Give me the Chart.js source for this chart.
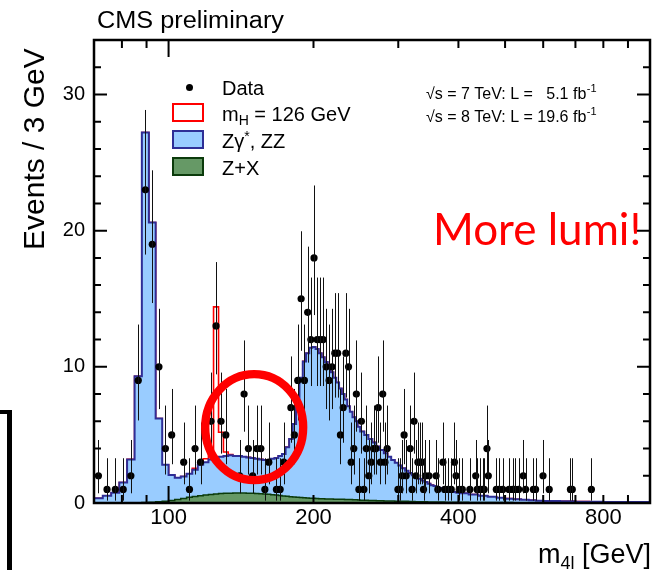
<!DOCTYPE html>
<html><head><meta charset="utf-8">
<script src="https://cdn.jsdelivr.net/npm/chart.js@4.4.1/dist/chart.umd.min.js"></script>
<style>html,body{margin:0;padding:0;background:#fff;}canvas{display:block;}</style>
</head><body>
<canvas id="c" width="654" height="570" style="width:654px;height:570px"></canvas>
<script>
// ---------------- data ----------------
const massRange = [70, 1000];
const xTickLabels = [100, 200, 400, 800];
const yTickLabels = [0, 10, 20, 30];

// histogram binning: [from, to, bin width] (GeV)
const binSegments = [[70, 250, 3], [250, 400, 5], [400, 600, 20], [600, 1000, 50]];

// stacked top of Z+X + Zgamma*,ZZ (blue)
const bkgTotal = [
  0.34,0.53,0.75,1.5,3.2,9.3,27.2,20.6,6.2,2.8,
  2.05,1.85,1.95,2.15,2.45,2.8,3.0,3.2,3.3,3.4,
  3.45,3.5,3.45,3.45,3.4,3.35,3.3,3.25,3.2,3.15,
  3.15,3.25,3.3,3.45,3.6,4.1,4.7,5.8,7.6,9.2,
  10.4,11.0,11.4,11.45,11.3,11.0,10.7,10.35,10.0,9.6,
  9.2,8.85,8.4,8.0,7.6,7.1,6.7,6.3,6.0,5.6,
  5.25,5.0,4.7,4.45,4.15,3.9,3.65,3.4,3.15,2.95,
  2.75,2.55,2.37,2.2,2.03,1.9,1.78,1.65,1.54,1.42,
  1.31,1.24,1.17,1.1,1.02,0.95,0.9,0.85,0.8,0.77,
  0.72,0.62,0.53,0.45,0.38,0.32,0.27,0.23,0.2,0.17,
  0.14,0.12,0.1,0.09,0.08,0.07,0.07,0.08
];
// Z+X (green)
const zxValues = [
  0,0,0,0,0,0.01,0.03,0.06,0.09,0.13,
  0.18,0.25,0.33,0.42,0.48,0.53,0.58,0.62,0.66,0.69,
  0.71,0.72,0.73,0.73,0.73,0.72,0.71,0.7,0.68,0.66,
  0.64,0.61,0.58,0.55,0.52,0.49,0.46,0.44,0.42,0.4,
  0.38,0.36,0.35,0.34,0.33,0.32,0.31,0.3,0.3,0.29,
  0.28,0.28,0.27,0.27,0.26,0.26,0.25,0.24,0.23,0.22,
  0.21,0.2,0.19,0.18,0.17,0.16,0.15,0.14,0.14,0.13,
  0.13,0.12,0.12,0.11,0.11,0.1,0.1,0.09,0.09,0.08,
  0.08,0.08,0.07,0.07,0.07,0.06,0.06,0.06,0.05,0.05,
  0.05,0.04,0.04,0.03,0.03,0.03,0.02,0.02,0.02,0.02,
  0.02,0.01,0.01,0.01,0.01,0.01,0.01,0.01
];
// m_H = 126 GeV signal, stacked on top (lower bin edges and contribution)
const higgsBins   = [112, 115, 118, 121, 124, 127, 130, 133];
const higgsValues = [0.1, 0.2, 0.25, 0.7, 11.1, 1.8, 0.3, 0.05];

// observed events (bin centre, count)
const dataMass = [71.5,74.5,77.5,80.5,83.5,86.5,89.5,92.5,95.5,98.5,101.5,107.5,110.5,113.5,116.5,
  122.5,125.5,128.5,131.5,140.5,143.5,146.5,149.5,152.5,155.5,158.5,161.5,167.5,170.5,173.5,
  179.5,182.5,185.5,188.5,191.5,194.5,197.5,200.5,203.5,206.5,209.5,212.5,215.5,218.5,221.5,224.5,
  227.5,230.5,233.5,236.5,239.5,242.5,245.5,248.5,251.5,254.5,257.5,260.5,263.5,266.5,269.5,272.5,
  275.5,278.5,281.5,284.5,299.5,302.5,305.5,308.5,311.5,317.5,320.5,323.5,326.5,329.5,332.5,335.5,
  338.5,341.5,347.5,359.5,362.5,371.5,374.5,380.5,386.5,392.5,395.5,401.5,407.5,422.5,434.5,437.5,
  443.5,449.5,452.5,458.5,461.5,479.5,485.5,494.5,509.5,518.5,524.5,533.5,545.5,551.5,572.5,578.5,
  599.5,617.5,683.5,689.5,755.5];
const dataCount = [2,1,1,1,2,9,23,19,10,4,5,3,1,4,3,
  6,13,6,5,2,8,4,2,4,4,1,3,1,1,3,
  7,5,9,15,9,14,12,18,12,12,12,10,9,10,11,11,
  5,7,11,10,3,4,8,1,6,1,4,2,3,4,4,7,
  3,8,3,4,1,1,2,5,2,4,1,6,2,3,3,3,
  1,2,2,2,1,3,1,1,1,3,2,1,1,1,2,1,
  1,1,1,4,2,1,1,1,1,1,1,1,2,1,1,1,
  2,1,1,1,1];

// ---------------- build histogram steps ----------------
const edges = [];
binSegments.forEach(([a, b, w]) => { for (let e = a; e < b - 1e-9; e += w) edges.push(e); });
function steps(vals) {
  const pts = vals.map((v, i) => ({x: edges[i], y: v}));
  pts.push({x: massRange[1], y: vals[vals.length - 1]});
  return pts;
}
const higgsTop = bkgTotal.map((v, i) => {
  const k = higgsBins.indexOf(edges[i]);
  return k >= 0 ? v + higgsValues[k] : v;
});

function poissonHigh(n) { const m = n + 1; return m * Math.pow(1 - 1 / (9 * m) + 1 / (3 * Math.sqrt(m)), 3); }
function poissonLow(n) { return n * Math.pow(1 - 1 / (9 * n) - 1 / (3 * Math.sqrt(n)), 3); }

const FONT = '"Liberation Sans", Arial, Helvetica, sans-serif';

const overlay = {
  id: 'overlay',
  afterDatasetsDraw(chart) {
    const {ctx, chartArea: a, scales: {x, y}} = chart;
    // error bars
    ctx.save();
    ctx.beginPath(); ctx.rect(a.left, a.top, a.right - a.left, a.bottom - a.top); ctx.clip();
    ctx.strokeStyle = '#111'; ctx.lineWidth = 1;
    dataMass.forEach((m, i) => {
      const n = dataCount[i];
      const px = Math.round(x.getPixelForValue(m)) + 0.5;
      ctx.beginPath();
      ctx.moveTo(px, y.getPixelForValue(poissonLow(n)));
      ctx.lineTo(px, y.getPixelForValue(poissonHigh(n)));
      ctx.stroke();
    });
    ctx.restore();
    // frame + ticks (ROOT style, inside)
    ctx.save();
    ctx.strokeStyle = '#000';
    ctx.lineWidth = 2;
    for (let v = 0; v <= 34; v += 2) {
      const py = y.getPixelForValue(v);
      const len = v % 10 === 0 ? 13 : 7;
      ctx.beginPath();
      ctx.moveTo(a.left, py); ctx.lineTo(a.left + len, py);
      ctx.moveTo(a.right, py); ctx.lineTo(a.right - len, py);
      ctx.stroke();
    }
    const xt = [];
    for (let v = 70; v < 100; v += 10) xt.push(v);
    for (let v = 100; v <= 1000; v += 100) xt.push(v);
    xt.forEach(v => {
      const px = x.getPixelForValue(v);
      const len = v === 100 ? 17 : 8;
      ctx.beginPath();
      ctx.moveTo(px, a.bottom); ctx.lineTo(px, a.bottom - len);
      ctx.moveTo(px, a.top); ctx.lineTo(px, a.top + len);
      ctx.stroke();
    });
    ctx.lineWidth = 2.5;
    ctx.strokeRect(a.left, a.top, a.right - a.left, a.bottom - a.top);
    ctx.restore();
  },
  afterDraw(chart) {
    const {ctx} = chart;
    ctx.save();
    ctx.fillStyle = '#000';
    ctx.textBaseline = 'alphabetic';
    ctx.textAlign = 'left';
    // header
    ctx.save();
    ctx.translate(97, 28); ctx.scale(1.1, 1);
    ctx.font = '23px ' + FONT;
    ctx.fillText('CMS preliminary', 0, 0);
    ctx.restore();
    // y title
    ctx.save();
    ctx.translate(44, 250); ctx.rotate(-Math.PI / 2);
    ctx.font = '30px ' + FONT;
    ctx.fillText('Events / 3 GeV', 0, 0);
    ctx.restore();
    // x title
    ctx.font = '27px ' + FONT;
    const part3 = ' [GeV]';
    ctx.textAlign = 'right';
    ctx.fillText(part3, 651, 563);
    const w3 = ctx.measureText(part3).width;
    ctx.font = '18px ' + FONT;
    ctx.fillText('4l', 651 - w3, 569);
    const w2 = ctx.measureText('4l').width;
    ctx.font = '27px ' + FONT;
    ctx.fillText('m', 651 - w3 - w2, 563);
    ctx.textAlign = 'left';

    // legend
    ctx.beginPath(); ctx.arc(189.5, 87.5, 3.5, 0, Math.PI * 2); ctx.fill();
    ctx.lineWidth = 2;
    ctx.strokeStyle = '#ff0000'; ctx.fillStyle = '#fff';
    ctx.fillRect(173, 104, 30, 17); ctx.strokeRect(173, 104, 30, 17);
    ctx.fillStyle = '#99ccff'; ctx.strokeStyle = '#2e2e96';
    ctx.fillRect(173, 131, 30, 17); ctx.strokeRect(173, 131, 30, 17);
    ctx.fillStyle = '#669966'; ctx.strokeStyle = '#0b3b0b';
    ctx.fillRect(173, 158, 30, 17); ctx.strokeRect(173, 158, 30, 17);
    ctx.fillStyle = '#000';
    ctx.font = '20px ' + FONT;
    ctx.fillText('Data', 222, 94.5);
    let xx = 222;
    ctx.fillText('m', xx, 120.5); xx += ctx.measureText('m').width;
    ctx.font = '14px ' + FONT; ctx.fillText('H', xx, 125); xx += ctx.measureText('H').width;
    ctx.font = '20px ' + FONT; ctx.fillText(' = 126 GeV', xx, 120.5);
    xx = 222;
    ctx.fillText('Z\u03b3', xx, 147.5); xx += ctx.measureText('Z\u03b3').width;
    ctx.font = '14px ' + FONT; ctx.fillText('*', xx, 141); xx += ctx.measureText('*').width;
    ctx.font = '20px ' + FONT; ctx.fillText(', ZZ', xx, 147.5);
    ctx.fillText('Z+X', 222, 174.5);

    // lumi text
    ctx.font = '16px ' + FONT;
    const l2a = '\u221As = 8 TeV: L = 19.6 fb';
    const endX = 426 + ctx.measureText(l2a).width;
    ctx.fillText('\u221As = 7 TeV: L =', 426, 99);
    ctx.textAlign = 'right'; ctx.fillText('5.1 fb', endX, 99); ctx.textAlign = 'left';
    ctx.fillText(l2a, 426, 122);
    ctx.font = '11px ' + FONT;
    ctx.fillText('-1', endX + 0.5, 92);
    ctx.fillText('-1', endX + 0.5, 115);

    // annotations
    ctx.fillStyle = '#ff0000';
    ctx.font = '44px Lato, "Open Sans", sans-serif';
    ctx.fillText('More lumi!', 433, 245);
    ctx.strokeStyle = '#ff0000'; ctx.lineWidth = 8.3;
    ctx.beginPath(); ctx.ellipse(254.2, 427.2, 49, 53, 0, 0, Math.PI * 2); ctx.stroke();
    ctx.fillStyle = '#000';
    ctx.fillRect(7, 410, 5, 160);
    ctx.fillRect(0, 410, 12, 4);
    ctx.restore();
  }
};

new Chart(document.getElementById('c'), {
  type: 'line',
  data: {
    datasets: [
      {label: 'Data', data: dataMass.map((m, i) => ({x: m, y: dataCount[i]})), showLine: false,
       pointRadius: 3.6, pointBackgroundColor: '#000', pointBorderWidth: 0, borderColor: '#000', order: 0},
      {label: 'Z+X', data: steps(zxValues), stepped: 'before', fill: 'origin', backgroundColor: '#669966',
       borderColor: '#0b3b0b', borderWidth: 1.5, pointRadius: 0, order: 1},
      {label: 'Z\u03b3*, ZZ', data: steps(bkgTotal), stepped: 'before', fill: 'origin', backgroundColor: '#99ccff',
       borderColor: '#2e2e96', borderWidth: 2, pointRadius: 0, order: 2},
      {label: 'm_H = 126 GeV', data: steps(higgsTop), stepped: 'before', fill: false,
       borderColor: '#ff0000', borderWidth: 1.6, pointRadius: 0, order: 3}
    ]
  },
  options: {
    responsive: false, animation: false, devicePixelRatio: 1,
    layout: {padding: {left: 0, right: 0, top: 40, bottom: 0}},
    plugins: {legend: {display: false}, tooltip: {enabled: false}},
    scales: {
      x: {type: 'logarithmic', min: massRange[0], max: massRange[1],
          afterFit(s) { s.height = 67; },
          afterBuildTicks(s) { s.ticks = xTickLabels.map(v => ({value: v})); },
          ticks: {autoSkip: false, maxRotation: 0, padding: 2, color: '#000',
                  font: {family: FONT, size: 22}, callback: v => String(v)},
          grid: {display: false, drawTicks: false}, border: {display: false}},
      y: {type: 'linear', min: 0, max: 34,
          afterFit(s) { s.width = 94; },
          afterBuildTicks(s) { s.ticks = yTickLabels.map(v => ({value: v})); },
          ticks: {padding: 9, color: '#000', font: {family: FONT, size: 20}, callback: v => String(v)},
          grid: {display: false, drawTicks: false}, border: {display: false}}
    }
  },
  plugins: [overlay]
});
</script>
</body></html>
